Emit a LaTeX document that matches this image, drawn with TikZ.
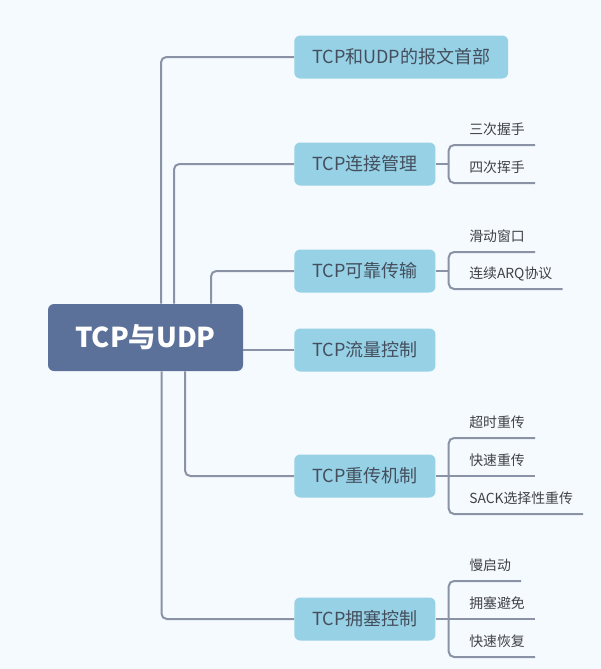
\documentclass[tikz,border=0pt]{standalone}
\usepackage{fontspec}
\setmainfont{Noto Sans CJK SC}
\usetikzlibrary{calc}
\definecolor{bgcol}{RGB}{245,250,254}
\definecolor{linecol}{RGB}{138,147,166}
\definecolor{rootcol}{RGB}{91,113,153}
\definecolor{topiccol}{RGB}{150,209,230}
\definecolor{topictext}{RGB}{68,78,92}
\definecolor{leaftext}{RGB}{64,66,72}
\begin{document}
\begin{tikzpicture}[
        x = 0.75pt, y = -0.75pt,
 link/.style = {draw=linecol, line width=1.5pt, rounded corners=4pt},
 root/.style = {fill=rootcol, rounded corners=4.5pt, text=white,
                font=\fontsize{20.5}{25}\selectfont\bfseries,
                minimum width=146.25pt, minimum height=50.25pt},
topic/.style = {fill=topiccol, rounded corners=4.5pt, text=topictext,
                font=\fontsize{13.5}{16}\selectfont, anchor=west,
                minimum width=105.75pt, minimum height=32.25pt, inner xsep=13.5pt},
 leaf/.style = {anchor=south west, inner sep=0pt, text=leaftext,
                font=\fontsize{10.4}{12}\selectfont, text depth=7.5pt}
                        ]
% background
    \fill[bgcol] (0,0) rectangle (601,669);
    \useasboundingbox (0,0) rectangle (601,669);
% nodes
    \node[root]  (root) at (145.5,337.5) {TCP与UDP};
    \node[topic] (c1) at (294,57)  {TCP和UDP的报文首部};
    \node[topic] (c2) at (294,164) {TCP连接管理};
    \node[topic] (c3) at (294,271) {TCP可靠传输};
    \node[topic] (c4) at (294,350) {TCP流量控制};
    \node[topic] (c5) at (294,476) {TCP重传机制};
    \node[topic] (c6) at (294,619) {TCP拥塞控制};
% root to topics
    \draw[link] ($(root.north)+(15.5,0)$) |- (c1.west);
    \draw[link] ($(root.north)+(28.5,0)$) |- (c2.west);
    \draw[link] ($(root.north)+(65.5,0)$) |- (c3.west);
    \draw[link] (c4.west -| root.east) -- (c4.west);
    \draw[link] ($(root.south)+(39.5,0)$) |- (c5.west);
    \draw[link] ($(root.south)+(16,0)$) |- (c6.west);
% leaves
    \node[leaf] (l21) at (469,145) {三次握手};
    \node[leaf] (l22) at (469,183) {四次挥手};
    \node[leaf] (l31) at (469,252) {滑动窗口};
    \node[leaf] (l32) at (469,289) {连续ARQ协议};
    \node[leaf] (l51) at (469,438) {超时重传};
    \node[leaf] (l52) at (469,476) {快速重传};
    \node[leaf] (l53) at (469,514) {SACK选择性重传};
    \node[leaf] (l61) at (469,581) {慢启动};
    \node[leaf] (l62) at (469,619) {拥塞避免};
    \node[leaf] (l63) at (469,657) {快速恢复};
% brackets
    \coordinate (b2) at ($(c2.east)+(13,0)$);
    \coordinate (b3) at ($(c3.east)+(13,0)$);
    \coordinate (b5) at ($(c5.east)+(13,0)$);
    \coordinate (b6) at ($(c6.east)+(13,0)$);
    \draw[link] (c2.east) -- (b2);
    \draw[link] (c3.east) -- (b3);
    \draw[link] (c5.east) -- (b5);
    \draw[link] (c6.east) -- (b6);
    \draw[link] (b2) |- ($(l21.south east)+(10,0)$);
    \draw[link] (b2) |- ($(l22.south east)+(10,0)$);
    \draw[link] (b3) |- ($(l31.south east)+(10,0)$);
    \draw[link] (b3) |- ($(l32.south east)+(10,0)$);
    \draw[link] (b5) |- ($(l51.south east)+(10,0)$);
    \draw[link] (b5) -- ($(l52.south east)+(10,0)$);
    \draw[link] (b5) |- ($(l53.south east)+(10,0)$);
    \draw[link] (b6) |- ($(l61.south east)+(10,0)$);
    \draw[link] (b6) -- ($(l62.south east)+(10,0)$);
    \draw[link] (b6) |- ($(l63.south east)+(10,0)$);
\end{tikzpicture}
\end{document}
